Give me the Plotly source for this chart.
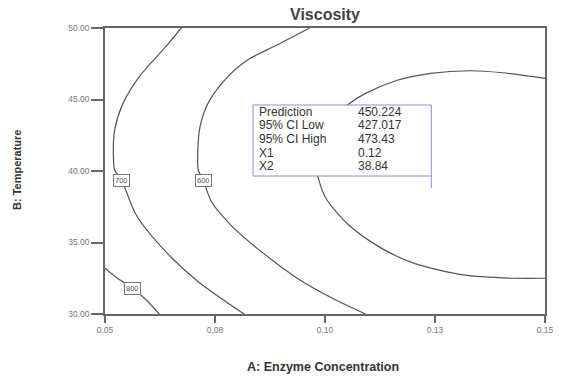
import plotly.graph_objects as go

# ---- data ----
c800_x = [0.0500, 0.0529, 0.0562, 0.0594, 0.0623]
c800_y = [33.20, 32.48, 31.80, 30.98, 30.00]

c700_x = [0.0673, 0.0638, 0.0578, 0.0541, 0.0522, 0.0519, 0.0522, 0.0538, 0.0571, 0.0638, 0.0712, 0.0816]
c700_y = [50.00, 48.69, 46.60, 44.73, 42.87, 41.24, 40.07, 39.35, 36.92, 34.36, 32.26, 30.00]

c600_x = [0.0965, 0.0891, 0.0824, 0.0772, 0.0734, 0.0716, 0.0711, 0.0712, 0.0723, 0.0742,
          0.0786, 0.0846, 0.0943, 0.1017, 0.1092]
c600_y = [50.00, 48.81, 47.76, 46.36, 44.73, 43.10, 41.47, 40.07, 39.37, 37.85,
          36.22, 34.59, 32.38, 31.10, 30.00]

c500_x = [0.1500, 0.1404, 0.1330, 0.1240, 0.1166, 0.1092, 0.1051, 0.1005, 0.0975, 0.0984,
          0.1002, 0.1054, 0.1129, 0.1203, 0.1315, 0.1426, 0.1500]
c500_y = [46.48, 46.87, 47.01, 46.83, 46.36, 45.43, 44.62, 43.30, 41.50, 39.60,
          38.09, 36.22, 34.59, 33.54, 32.73, 32.50, 32.50]

contour_levels = ["800", "700", "600", "500"]
label_levels = ["800", "700", "600"]
label_x = [0.0562, 0.0538, 0.0723]
label_y = [31.80, 39.35, 39.37]

x_tickvals = [0.05, 0.075, 0.10, 0.125, 0.15]
x_ticktext = ["0.05", "0.08", "0.10", "0.13", "0.15"]
y_tickvals = [30, 35, 40, 45, 50]
y_ticktext = ["30.00", "35.00", "40.00", "45.00", "50.00"]

box_labels = ["Prediction", "95% CI Low", "95% CI High", "X1", "X2"]
box_values = ["450.224", "427.017", "473.43", "0.12", "38.84"]

title_text = "Viscosity"
x_title = "A: Enzyme Concentration"
y_title = "B: Temperature"

# ---- figure ----
FONT = "Liberation Sans, Arial, sans-serif"
LINE_COL = "#555555"
AXIS_COL = "#666666"

fig = go.Figure()
for xs, ys, name in [(c800_x, c800_y, contour_levels[0]), (c700_x, c700_y, contour_levels[1]),
                     (c600_x, c600_y, contour_levels[2]), (c500_x, c500_y, contour_levels[3])]:
    fig.add_trace(go.Scatter(x=xs, y=ys, mode="lines", name=name,
                             line=dict(color=LINE_COL, width=1.2, shape="spline", smoothing=0.8),
                             hoverinfo="skip", showlegend=False))

annotations = []
for t, lx, ly in zip(label_levels, label_x, label_y):
    annotations.append(dict(x=lx, y=ly, xref="x", yref="y", text=t, showarrow=False,
                            font=dict(family=FONT, size=7.5, color="#555555"),
                            bgcolor="white", bordercolor="#777777", borderwidth=1, borderpad=1))

# info box (pixel-based positions converted to paper coords)
PL, PR, PT, PB = 105, 554, 28, 314
W, H = PR - PL, PB - PT
def px(xp):
    return (xp - PL) / W
def py(yp):
    return (PB - yp) / H

shapes = [
    dict(type="rect", xref="paper", yref="paper", x0=px(256), x1=px(438), y0=py(176), y1=py(105),
         fillcolor="white", line=dict(color="#8c8ce0", width=1), layer="above"),
    dict(type="line", xref="paper", yref="paper", x0=px(438), x1=px(438), y0=py(176), y1=py(188),
         line=dict(color="#8c8ce0", width=1), layer="above"),
]
row_y0, row_dy = 111.5, 13.7
for i, (lab, val) in enumerate(zip(box_labels, box_values)):
    yy = py(row_y0 + i * row_dy)
    annotations.append(dict(x=px(260), y=yy, xref="paper", yref="paper", text=lab, showarrow=False,
                            xanchor="left", yanchor="middle",
                            font=dict(family=FONT, size=12, color="#333333")))
    annotations.append(dict(x=px(361), y=yy, xref="paper", yref="paper", text=val, showarrow=False,
                            xanchor="left", yanchor="middle",
                            font=dict(family=FONT, size=12, color="#333333")))

# titles
annotations.append(dict(x=0.5, y=1, xref="paper", yref="paper", text="<b>" + title_text + "</b>",
                        showarrow=False, xanchor="center", yanchor="middle", yshift=PT - 14,
                        font=dict(family=FONT, size=16, color="#444444")))
annotations.append(dict(x=0.5, y=0, xref="paper", yref="paper", text="<b>" + x_title + "</b>",
                        showarrow=False, xanchor="center", yanchor="middle", yshift=-(367 - PB),
                        xshift=-2, font=dict(family=FONT, size=12.5, color="#333333")))
annotations.append(dict(x=0, y=0.5, xref="paper", yref="paper", text="<b>" + y_title + "</b>",
                        showarrow=False, textangle=-90, xanchor="center", yanchor="middle",
                        xshift=17 - PL, yshift=(PB + PT) / 2 - 170,
                        font=dict(family=FONT, size=11, color="#333333")))

axis_common = dict(showline=True, linecolor=AXIS_COL, linewidth=1.5, mirror=True,
                   showgrid=False, zeroline=False, ticks="outside", tickcolor=AXIS_COL,
                   tickwidth=1.5, tickfont=dict(family=FONT, size=8.5, color="#777777"))

fig.update_layout(
    width=563, height=380,
    margin=dict(l=PL, r=563 - PR, t=PT, b=380 - PB, pad=0),
    paper_bgcolor="white", plot_bgcolor="white",
    xaxis=dict(range=[0.05, 0.15], tickvals=x_tickvals, ticktext=x_ticktext, ticklen=7, **axis_common),
    yaxis=dict(range=[30, 50], tickvals=y_tickvals, ticktext=y_ticktext, ticklen=12, **axis_common),
    annotations=annotations,
    shapes=shapes,
    showlegend=False,
)

fig.write_html("out.html")
